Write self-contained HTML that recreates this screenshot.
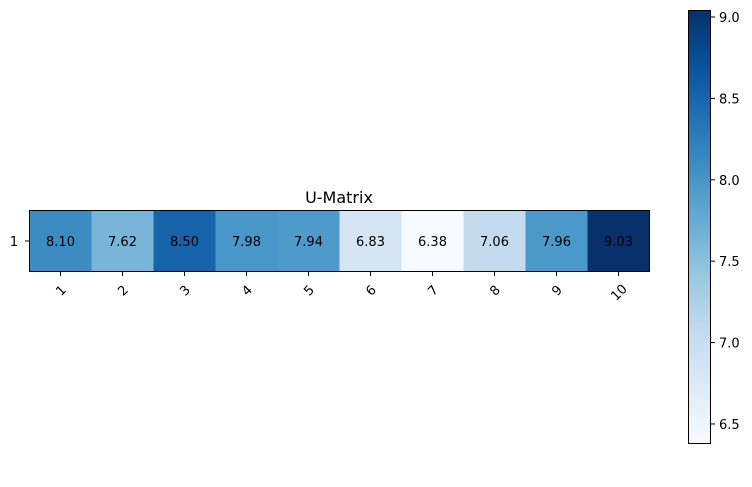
<!DOCTYPE html>
<html><head><meta charset="utf-8"><style>
body{margin:0;background:#fff;width:752px;height:482px;overflow:hidden}
svg{font-family:"DejaVu Sans","Liberation Sans",sans-serif}
</style></head><body>
<svg id="chart" width="752" height="482">
<defs><linearGradient id="cbg" x1="0" y1="1" x2="0" y2="0">
<stop offset="0" stop-color="#f7fbff"/><stop offset="0.125" stop-color="#deebf7"/><stop offset="0.25" stop-color="#c6dbef"/><stop offset="0.375" stop-color="#9ecae1"/><stop offset="0.5" stop-color="#6baed6"/><stop offset="0.625" stop-color="#4292c6"/><stop offset="0.75" stop-color="#2171b5"/><stop offset="0.875" stop-color="#08519c"/><stop offset="1" stop-color="#08306b"/>
</linearGradient></defs>
<text x="339" y="203" font-size="16" text-anchor="middle">U-Matrix</text>
<g id="cells"></g>
<rect x="29.5" y="210.5" width="620" height="61" fill="none" stroke="#000" stroke-width="1"/>
<line x1="25" y1="241" x2="29" y2="241" stroke="#000"/>
<text x="14" y="246" font-size="13" text-anchor="middle">1</text>
<g id="xticks"></g>
<rect x="688.5" y="10.5" width="22" height="433" fill="url(#cbg)" stroke="#000"/>
<g id="cbticks"></g>
</svg>
<script>
const categories=["1","2","3","4","5","6","7","8","9","10"];
const values=[8.10,7.62,8.50,7.98,7.94,6.83,6.38,7.06,7.96,9.03];
const cbTicks=[6.5,7.0,7.5,8.0,8.5,9.0];
const vmin=6.383,vmax=9.043;
const stops=["#f7fbff","#deebf7","#c6dbef","#9ecae1","#6baed6","#4292c6","#2171b5","#08519c","#08306b"];
const NS="http://www.w3.org/2000/svg";
function hex(h){return [1,3,5].map(i=>parseInt(h.substr(i,2),16));}
function cmap(v){let t=(v-Math.min(...values))/(Math.max(...values)-Math.min(...values));t=Math.max(0,Math.min(1,t));
 const p=t*(stops.length-1),i=Math.min(Math.floor(p),stops.length-2),f=p-i;const a=hex(stops[i]),b=hex(stops[i+1]);
 return "rgb("+a.map((c,k)=>Math.round(c+(b[k]-c)*f)).join(",")+")";}
const x0=29.5,cw=620/categories.length;
function xs(i){return x0+i*cw;}
function cy(v){return 443-(v-vmin)/(vmax-vmin)*433;}
const cells=document.getElementById('cells'),xt=document.getElementById('xticks'),cb=document.getElementById('cbticks');
values.forEach((v,i)=>{
 const r=document.createElementNS(NS,'rect');
 r.setAttribute('x',xs(i));r.setAttribute('y',210.5);r.setAttribute('width',cw+0.5);r.setAttribute('height',61);r.setAttribute('fill',cmap(v));
 
 
 cells.appendChild(r);
 const t=document.createElementNS(NS,'text');
 t.setAttribute('x',xs(i)+cw/2);t.setAttribute('y',246);t.setAttribute('font-size','13');t.setAttribute('text-anchor','middle');
 t.textContent=v.toFixed(2);
 
 
 cells.appendChild(t);
});
categories.forEach((c,i)=>{
 const cx=xs(i)+cw/2;
 const l=document.createElementNS(NS,'line');
 l.setAttribute('x1',cx);l.setAttribute('x2',cx);l.setAttribute('y1',272);l.setAttribute('y2',276);l.setAttribute('stroke','#000');
 
 
 xt.appendChild(l);
 const t=document.createElementNS(NS,'text');
 const ty=c.length>1?292:290;
 t.setAttribute('x',cx);t.setAttribute('y',ty+5);t.setAttribute('font-size','13');t.setAttribute('text-anchor','middle');
 t.setAttribute('transform','rotate(-45 '+cx+' '+ty+')');
 t.textContent=c;
 
 
 xt.appendChild(t);
});
cbTicks.forEach(v=>{
 const y=cy(v);
 const l=document.createElementNS(NS,'line');
 l.setAttribute('x1',711);l.setAttribute('x2',715);l.setAttribute('y1',y);l.setAttribute('y2',y);l.setAttribute('stroke','#000');
 
 
 cb.appendChild(l);
 const t=document.createElementNS(NS,'text');
 t.setAttribute('x',719);t.setAttribute('y',y+5);t.setAttribute('font-size','13');
 t.textContent=v.toFixed(1);
 
 
 cb.appendChild(t);
});
</script>
</body></html>
